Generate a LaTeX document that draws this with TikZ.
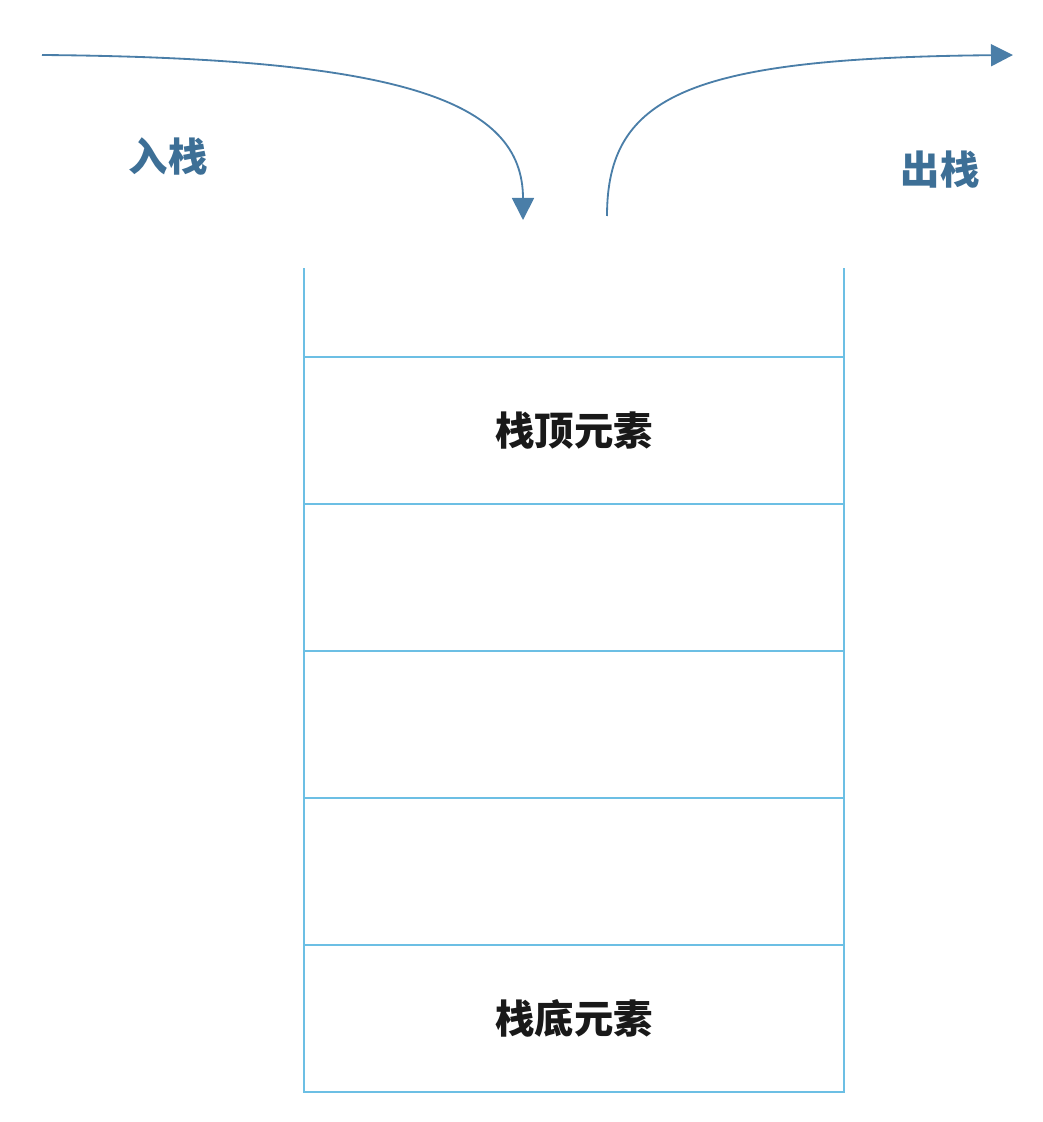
\documentclass[tikz,border=0pt]{standalone}
\usepackage{fontspec}
\newfontfamily\cjk{Noto Sans CJK SC}
\usetikzlibrary{arrows.meta, positioning}
\definecolor{stackblue}{HTML}{6cbfe4}
\definecolor{flowblue}{HTML}{4a7ea8}
\definecolor{labelblue}{HTML}{3d6f96}
\tikzset{
  cell/.style={rectangle, draw=stackblue, line width=1.8pt, outer sep=0pt,
               minimum width=13.5cm, minimum height=3.675cm,
               font=\cjk\bfseries\fontsize{28}{30}\selectfont, text=black!90},
  wall/.style={draw=stackblue, line width=1.8pt},
  flow/.style={-{Triangle[length=5.5mm,width=5.5mm]}, line width=1.3pt, draw=flowblue},
  flowlabel/.style={font=\cjk\bfseries\fontsize{28}{30}\selectfont, text=labelblue},
}

\begin{document}
\begin{tikzpicture}[x=0.025cm, y=-0.025cm]
  \useasboundingbox (0,0) rectangle (1042,1122);
  \node[cell] (top)    at (574,430.5) {栈顶元素};
  \node[cell, below=0pt of top]  (mid1) {};
  \node[cell, below=0pt of mid1] (mid2) {};
  \node[cell, below=0pt of mid2] (mid3) {};
  \node[cell, below=0pt of mid3] (bottom) {栈底元素};

  % open end of the stack
  \draw[wall] (top.north west) -- ++(0,-89);
  \draw[wall] (top.north east) -- ++(0,-89);

  \coordinate (pushstart) at (42,55);
  \coordinate (pushend)   at (523,220);
  \coordinate (popstart)  at (607,216);
  \coordinate (popend)    at (1013,55);

  \draw[flow] (pushstart) .. controls (400,58) and (523,100) .. (pushend);
  \draw[flow] (popstart) .. controls (607,95) and (690,58) .. (popend);

  \node[flowlabel] (pushlabel) at (168,157) {入栈};
  \node[flowlabel] (poplabel)  at (940,170) {出栈};
\end{tikzpicture}
\end{document}
